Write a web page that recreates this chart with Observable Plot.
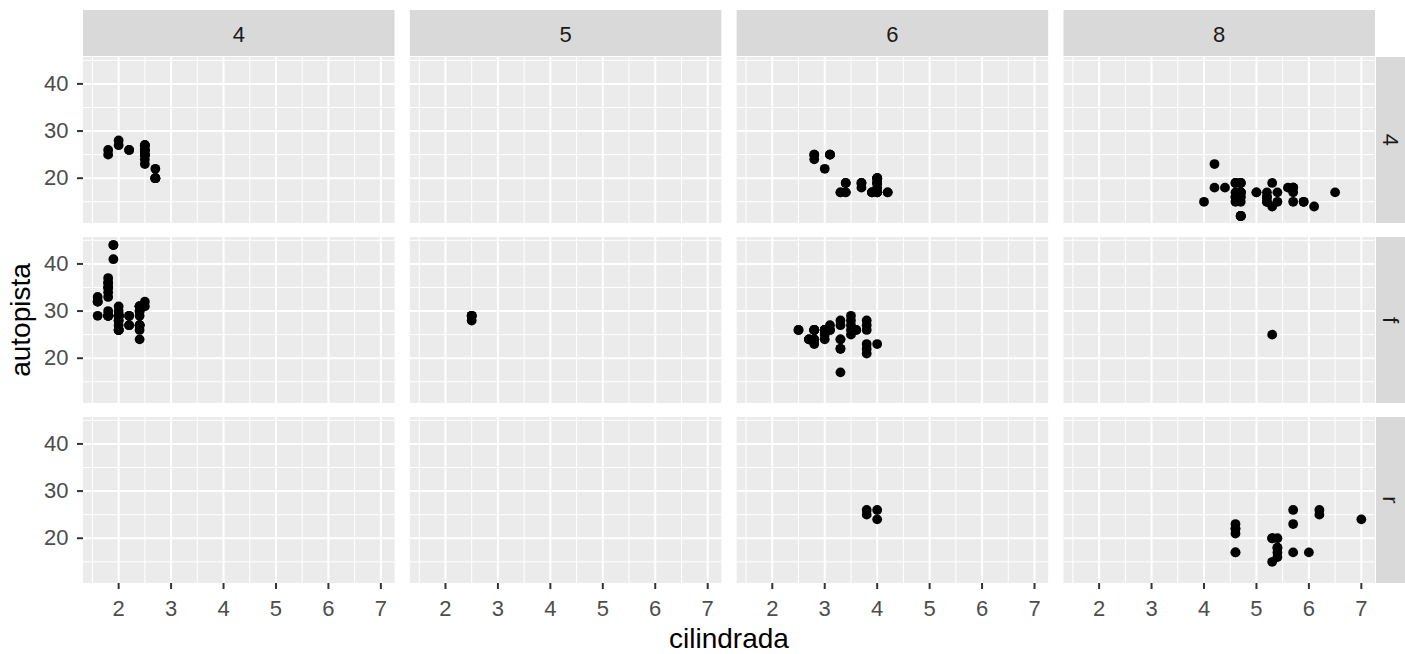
<!DOCTYPE html>
<html><head><meta charset="utf-8">
<script src="https://cdn.jsdelivr.net/npm/d3@7"></script>
<script src="https://cdn.jsdelivr.net/npm/@observablehq/plot@0.6"></script>
<style>html,body{margin:0;padding:0;background:#fff;overflow:hidden} svg{display:block}</style>
</head><body><div id="chart"></div>
<script>
// mpg: displ (cilindrada), hwy (autopista), cyl (columns), drv (rows)
const displ = [1.8,1.8,2.0,2.0,2.8,2.8,3.1,1.8,1.8,2.0,2.0,2.8,2.8,3.1,3.1,2.8,3.1,4.2,5.3,5.3,5.3,5.7,6.0,5.7,5.7,6.2,6.2,7.0,5.3,5.3,5.7,6.5,2.4,2.4,3.1,3.5,3.6,2.4,3.0,3.3,3.3,3.3,3.3,3.3,3.8,3.8,3.8,4.0,3.7,3.7,3.9,3.9,4.7,4.7,4.7,5.2,5.2,3.9,4.7,4.7,4.7,5.2,5.7,5.9,4.7,4.7,4.7,4.7,4.7,4.7,5.2,5.2,5.7,5.9,4.6,4.6,5.4,4.0,4.0,4.0,4.0,4.6,5.0,4.2,4.2,4.6,4.6,4.6,5.4,5.4,3.8,3.8,4.0,4.0,4.6,4.6,4.6,4.6,5.4,1.6,1.6,1.6,1.6,1.6,1.8,1.8,1.8,2.0,2.4,2.4,2.4,2.4,2.5,2.5,3.3,2.0,2.0,2.0,2.0,2.7,2.7,2.7,3.0,3.7,4.0,4.7,4.7,4.7,5.7,6.1,4.0,4.2,4.4,4.6,5.4,5.4,5.4,4.0,4.0,4.6,5.0,2.4,2.4,2.5,2.5,3.5,3.5,3.0,3.0,3.5,3.3,3.3,4.0,5.6,3.1,3.8,3.8,3.8,5.3,2.5,2.5,2.5,2.5,2.5,2.5,2.2,2.2,2.5,2.5,2.5,2.5,2.5,2.5,2.7,2.7,3.4,3.4,4.0,4.7,2.2,2.2,2.4,2.4,3.0,3.0,3.5,2.2,2.2,2.4,2.4,3.0,3.0,3.3,1.8,1.8,1.8,1.8,1.8,4.7,5.7,2.7,2.7,2.7,3.4,3.4,4.0,4.0,2.0,2.0,2.0,2.0,2.8,1.9,2.0,2.0,2.0,2.0,2.5,2.5,2.8,2.8,1.9,1.9,2.0,2.0,2.5,2.5,1.8,1.8,2.0,2.0,2.8,2.8,3.6];
const cyl = [4,4,4,4,6,6,6,4,4,4,4,6,6,6,6,6,6,8,8,8,8,8,8,8,8,8,8,8,8,8,8,8,4,4,6,6,6,4,6,6,6,6,6,6,6,6,6,6,6,6,6,6,8,8,8,8,8,6,8,8,8,8,8,8,8,8,8,8,8,8,8,8,8,8,8,8,8,6,6,6,6,8,8,6,6,8,8,8,8,8,6,6,6,6,8,8,8,8,8,4,4,4,4,4,4,4,4,4,4,4,4,4,6,6,6,4,4,4,4,6,6,6,6,6,6,8,8,8,8,8,8,8,8,8,8,8,8,6,6,8,8,4,4,4,4,6,6,6,6,6,6,6,6,8,6,6,6,6,8,4,4,4,4,4,4,4,4,4,4,4,4,4,4,4,4,6,6,6,8,4,4,4,4,6,6,6,4,4,4,4,6,6,6,4,4,4,4,4,8,8,4,4,4,6,6,6,6,4,4,4,4,6,4,4,4,4,4,5,5,6,6,4,4,4,4,5,5,4,4,4,4,6,6,6];
const drv = ["f","f","f","f","f","f","f","4","4","4","4","4","4","4","4","4","4","4","r","r","r","r","r","r","r","r","r","r","4","4","4","4","f","f","f","f","f","f","f","f","f","f","f","f","f","f","f","f","4","4","4","4","4","4","4","4","4","4","4","4","4","4","4","4","4","4","4","4","4","4","4","4","4","4","r","r","r","4","4","4","4","4","4","4","4","4","4","4","4","4","r","r","r","r","r","r","r","r","r","f","f","f","f","f","f","f","f","f","f","f","f","f","f","f","f","f","f","f","f","f","f","f","4","4","4","4","4","4","4","4","4","4","4","4","r","r","r","4","4","4","4","f","f","f","f","f","f","f","f","f","4","4","4","4","f","f","f","f","f","4","4","4","4","4","4","4","4","4","4","4","4","4","4","4","4","4","4","4","4","f","f","f","f","f","f","f","f","f","f","f","f","f","f","f","f","f","f","f","4","4","4","4","4","4","4","4","4","f","f","f","f","f","f","f","f","f","f","f","f","f","f","f","f","f","f","f","f","f","f","f","f","f","f","f","f"];
const hwy = [29,29,31,30,26,26,27,26,25,28,27,25,25,25,25,24,25,23,20,15,20,17,17,26,23,26,25,24,19,14,15,17,27,30,26,29,26,24,24,22,22,24,24,17,22,21,23,23,19,18,17,17,19,19,12,17,15,17,17,12,17,16,18,15,16,12,17,17,16,12,15,16,17,15,17,17,18,17,19,17,19,19,17,17,17,16,16,17,15,17,26,25,26,24,21,22,23,22,20,33,32,32,29,32,34,36,36,29,26,27,30,31,26,26,28,26,29,28,27,24,24,24,22,19,20,17,12,19,18,14,15,18,18,15,17,16,18,17,19,19,17,29,27,31,32,27,26,26,25,25,17,17,20,18,26,26,27,28,25,25,24,27,25,26,23,26,26,26,26,25,27,25,27,20,20,19,17,20,17,29,27,31,31,26,26,28,27,29,31,31,26,26,27,30,33,35,37,35,15,18,20,20,22,17,19,18,20,29,26,29,29,24,44,29,26,29,29,29,29,23,24,44,41,29,26,28,29,29,29,28,29,26,26,26];

const cylLevels = [4, 5, 6, 8];
const drvLevels = ["4", "f", "r"];
const xTicks = [2, 3, 4, 5, 6, 7];
const xMinor = [1.5, 2.5, 3.5, 4.5, 5.5, 6.5];
const yTicks = [20, 30, 40];
const yMinor = [15, 25, 35, 45];
const xTitle = "cilindrada";
const yTitle = "autopista";

const data = displ.map((d, i) => ({displ: d, hwy: hwy[i], cyl: cyl[i], drv: drv[i]}));
const cells = cylLevels.flatMap(c => drvLevels.map(r => ({cyl: c, drv: r})));

// ggplot-style 5% expansion of the data range
const expand = ([a, b]) => [a - 0.05 * (b - a), b + 0.05 * (b - a)];
const xDom = expand(d3.extent(displ));
const yDom = expand(d3.extent(hwy));

const W = 1405, H = 654, mL = 83, mR = 30, mT = 57, mB = 71;
const FONT = "'Liberation Sans', Arial, sans-serif";

const plot = Plot.plot({
  width: W, height: H,
  marginLeft: mL, marginRight: mR, marginTop: mT, marginBottom: mB,
  style: {fontFamily: FONT, background: "white"},
  x: {domain: xDom},
  y: {domain: yDom},
  fx: {domain: cylLevels, paddingInner: 0.0468, paddingOuter: 0, round: false, axis: null},
  fy: {domain: drvLevels, paddingInner: 0.078, paddingOuter: 0, round: false, axis: null},
  marks: [
    Plot.rect(cells, {fx: "cyl", fy: "drv", x1: () => xDom[0], x2: () => xDom[1], y1: () => yDom[0], y2: () => yDom[1], fill: "#EBEBEB"}),
    Plot.gridX(xMinor, {stroke: "white", strokeOpacity: 1, strokeWidth: 1}),
    Plot.gridY(yMinor, {stroke: "white", strokeOpacity: 1, strokeWidth: 1}),
    Plot.gridX(xTicks, {stroke: "white", strokeOpacity: 1, strokeWidth: 2}),
    Plot.gridY(yTicks, {stroke: "white", strokeOpacity: 1, strokeWidth: 2}),
    Plot.axisX(xTicks, {anchor: "bottom", facetAnchor: "bottom", tickSize: 6, tickPadding: 11, fontSize: 22, stroke: "#333333", strokeWidth: 2, fill: "#4D4D4D", label: null}),
    Plot.axisY(yTicks, {anchor: "left", facetAnchor: "left", tickSize: 6, tickPadding: 9, fontSize: 22, stroke: "#333333", strokeWidth: 2, fill: "#4D4D4D", label: null}),
    Plot.dot(data, {x: "displ", y: "hwy", fx: "cyl", fy: "drv", r: 4.9, fill: "black", stroke: "none"})
  ]
});

// facet strips and axis titles, positioned from Plot's own facet scales
const fxS = plot.scale("fx"), fyS = plot.scale("fy");
const svg = d3.select(plot);
const g = svg.append("g").attr("font-family", FONT);
cylLevels.forEach(c => {
  const x0 = fxS.apply(c), bw = fxS.bandwidth;
  g.append("rect").attr("x", x0).attr("y", mT - 47).attr("width", bw).attr("height", 46).attr("fill", "#D9D9D9");
  g.append("text").attr("x", x0 + bw / 2).attr("y", mT - 23).attr("dy", "0.35em")
    .attr("text-anchor", "middle").attr("font-size", 22).attr("fill", "#1A1A1A").text(String(c));
});
drvLevels.forEach(r => {
  const y0 = fyS.apply(r), bh = fyS.bandwidth;
  g.append("rect").attr("x", W - mR + 1).attr("y", y0).attr("width", mR).attr("height", bh).attr("fill", "#D9D9D9");
  g.append("text").attr("transform", `translate(${W - 22},${y0 + bh / 2}) rotate(90)`)
    .attr("text-anchor", "middle").attr("font-size", 22).attr("fill", "#1A1A1A").text(r);
});
g.append("text").attr("x", (mL + W - mR) / 2).attr("y", H - 6)
  .attr("text-anchor", "middle").attr("font-size", 28).attr("fill", "black").text(xTitle);
g.append("text").attr("transform", `translate(30,${(mT + H - mB) / 2}) rotate(-90)`)
  .attr("text-anchor", "middle").attr("font-size", 28).attr("fill", "black").text(yTitle);

document.getElementById("chart").appendChild(plot);
</script>
</body></html>
